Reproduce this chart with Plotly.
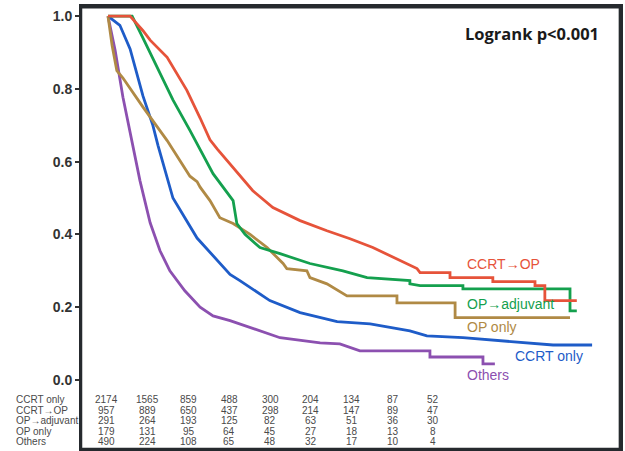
import plotly.graph_objects as go

# ---- data (time in months, survival probability) ----
red_t = [0, 6.5, 10.3, 12.4, 17.4, 23.2, 27.1, 30.0, 32.1, 36.8, 42.6, 48.5, 56.5, 64.4, 71.2, 77.9, 85.9, 90.9,
         91.8, 100.6, 100.6, 113.2, 113.2, 125.6, 125.6, 128.5, 128.5, 137.9]
red_s = [1.0, 1.0, 0.96, 0.934, 0.887, 0.796, 0.72, 0.66, 0.635, 0.584, 0.52, 0.474, 0.438, 0.41, 0.388, 0.364, 0.328, 0.306,
         0.295, 0.295, 0.281, 0.281, 0.270, 0.270, 0.259, 0.259, 0.218, 0.218]

green_t = [0, 7.1, 10.3, 14.4, 19.1, 24.1, 27.1, 30.9, 36.8, 37.9, 40.3, 44.7, 50.6, 59.4, 69.1, 76.2, 88.8, 88.8,
           91.8, 104.4, 104.4, 135.9, 135.9, 137.9]
green_s = [1.0, 1.0, 0.94, 0.86, 0.77, 0.686, 0.635, 0.567, 0.493, 0.43, 0.40, 0.364, 0.347, 0.32, 0.30, 0.281, 0.273, 0.264,
           0.259, 0.259, 0.25, 0.25, 0.19, 0.19]

brown_t = [0, 1.2, 2.6, 4.4, 10.3, 17.4, 24.1, 26.2, 27.1, 30.0, 32.9, 36.8, 41.8, 46.8, 51.5, 52.6, 58.5, 59.4,
           64.4, 69.1, 70.3, 85.0, 85.0, 102.1, 102.1, 135.9]
brown_s = [1.0, 0.92, 0.85, 0.83, 0.75, 0.658, 0.56, 0.545, 0.53, 0.493, 0.446, 0.43, 0.40, 0.364, 0.32, 0.306, 0.30, 0.281,
           0.264, 0.237, 0.231, 0.231, 0.212, 0.212, 0.171, 0.171]

blue_t = [0, 3.5, 6.5, 10.3, 13.2, 14.7, 19.1, 26.2, 35.9, 38.8, 47.6, 56.5, 67.4, 77.1, 88.8, 93.8, 104.4, 117.4, 130.9, 142.4]
blue_s = [1.0, 0.975, 0.91, 0.78, 0.70, 0.645, 0.50, 0.39, 0.29, 0.273, 0.218, 0.185, 0.16, 0.154, 0.135, 0.121, 0.116, 0.107, 0.096, 0.096]

purple_t = [0, 2.1, 4.4, 7.1, 9.4, 12.4, 15.3, 18.2, 22.6, 27.1, 30.9, 35.9, 40.3, 50.6, 62.4, 68.2, 74.1, 94.7, 94.7,
            110.3, 110.3, 113.8]
purple_s = [1.0, 0.906, 0.777, 0.65, 0.548, 0.432, 0.355, 0.30, 0.245, 0.20, 0.176, 0.163, 0.149, 0.116, 0.102, 0.099, 0.080, 0.080, 0.063,
            0.063, 0.044, 0.044]

group_names = ["CCRT only", "CCRT\u2192OP", "OP\u2192adjuvant", "OP only", "Others"]
risk_times = [0, 12, 24, 36, 48, 60, 72, 84, 96]
risk_ccrt_only = [2174, 1565, 859, 488, 300, 204, 134, 87, 52]
risk_ccrt_op = [957, 889, 650, 437, 298, 214, 147, 89, 47]
risk_op_adj = [291, 264, 193, 125, 82, 63, 51, 36, 30]
risk_op_only = [179, 131, 95, 64, 45, 27, 18, 13, 8]
risk_others = [490, 224, 108, 65, 48, 32, 17, 10, 4]
risk_rows = [risk_ccrt_only, risk_ccrt_op, risk_op_adj, risk_op_only, risk_others]

y_ticks = [0.0, 0.2, 0.4, 0.6, 0.8, 1.0]
y_ticktext = ["<b>0.0</b>", "<b>0.2</b>", "<b>0.4</b>", "<b>0.6</b>", "<b>0.8</b>", "<b>1.0</b>"]
x_ticks = [0, 12, 24, 36, 48, 60, 72, 84, 96, 108, 120, 132, 144]

C_RED = "#E6533A"
C_GREEN = "#14A04E"
C_BROWN = "#B08A45"
C_BLUE = "#1E5CC8"
C_PURPLE = "#8C50B0"
C_FRAME = "#262a2e"

fig = go.Figure()
for t, s, c, n in [
    (purple_t, purple_s, C_PURPLE, "Others"),
    (blue_t, blue_s, C_BLUE, "CCRT only"),
    (brown_t, brown_s, C_BROWN, "OP only"),
    (green_t, green_s, C_GREEN, "OP\u2192adjuvant"),
    (red_t, red_s, C_RED, "CCRT\u2192OP"),
]:
    fig.add_trace(go.Scatter(x=t, y=s, mode="lines", line=dict(color=c, width=2.8), name=n,
                             showlegend=False, hoverinfo="skip"))

annotations = []
labels = [
    ("CCRT\u2192OP", 104.9, 0.32, C_RED),
    ("OP\u2192adjuvant", 104.9, 0.21, C_GREEN),
    ("OP only", 104.9, 0.145, C_BROWN),
    ("CCRT only", 119.0, 0.066, C_BLUE),
    ("Others", 104.9, 0.013, C_PURPLE),
]
for txt, x, y, c in labels:
    annotations.append(dict(x=x, y=y, xref="x", yref="y", text=txt, showarrow=False,
                            xanchor="left", yanchor="middle",
                            font=dict(family="Liberation Sans, Arial", size=14, color=c)))

annotations.append(dict(x=0.963, y=0.937, xref="paper", yref="paper", text="<b>Logrank p&lt;0.001</b>",
                        showarrow=False, xanchor="right", yanchor="middle",
                        font=dict(family="Open Sans", size=16.5, color="#1a1a1a")))

row_y = [-0.055, -0.083, -0.112, -0.141, -0.168]
tbl_font = dict(family="Liberation Sans Narrow, Arial Narrow, Liberation Sans", size=10, color="#4a4a4a")
for name, vals, y in zip(group_names, risk_rows, row_y):
    annotations.append(dict(x=-0.124, y=y, xref="paper", yref="y", text=name, showarrow=False,
                            xanchor="left", yanchor="middle", font=tbl_font))
    for t, v in zip(risk_times, vals):
        annotations.append(dict(x=t - 0.3, y=y, xref="x", yref="y", text=str(v), showarrow=False,
                                xanchor="center", yanchor="middle", font=tbl_font))

fig.update_layout(
    width=625, height=451,
    margin=dict(l=81, r=4, t=6, b=2),
    paper_bgcolor="white", plot_bgcolor="white",
    annotations=annotations,
    shapes=[dict(type="rect", xref="paper", yref="paper", x0=0, x1=0.998, y0=0, y1=0.997,
                 line=dict(color=C_FRAME, width=2.5), layer="above")],
    xaxis=dict(range=[-7.94, 150.9], tickvals=x_ticks, ticktext=[""] * len(x_ticks), ticks="outside",
               ticklen=3, tickcolor="#333", showgrid=False, zeroline=False, automargin=False,
               showline=True, linecolor=C_FRAME, linewidth=2, mirror=True),
    yaxis=dict(range=[-0.19, 1.028], tickvals=y_ticks, ticktext=y_ticktext, ticks="outside",
               ticklen=4, tickcolor="#333", tickwidth=1.5, showgrid=False, zeroline=False, automargin=False,
               showline=True, linecolor=C_FRAME, linewidth=2, mirror=True,
               tickfont=dict(family="Liberation Sans, Arial", size=14, color="#333")),
)

fig.write_html("out.html", config={"displayModeBar": False},
               post_script="document.body.style.margin='0';document.body.style.overflow='hidden';")
